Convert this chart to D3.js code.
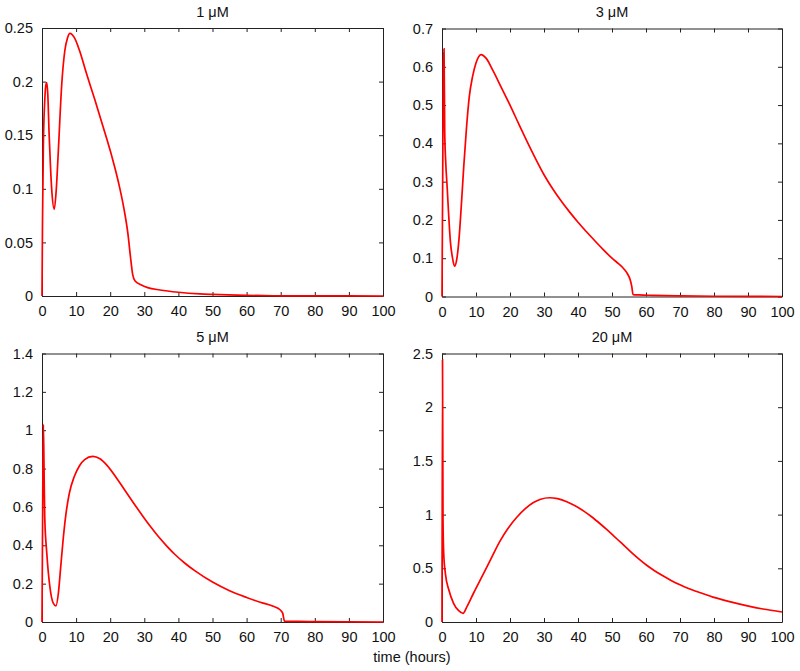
<!DOCTYPE html>
<html lang="en">
<head>
  <meta charset="UTF-8">
  <title>Response over time at four doses</title>
  <script src="https://d3js.org/d3.v7.min.js"></script>
  <style>
    body { margin: 0; background: #fff; }
    svg { display: block; }
    .axis text { font-family: Arial, "Liberation Sans", sans-serif; font-size: 14.5px; fill: #111; }
    .axis path, .axis line { stroke: #222; stroke-width: 1; }
    .title { font-family: Arial, "Liberation Sans", sans-serif; font-size: 14.5px; fill: #111; }
    .curve { fill: none; stroke: #f00; stroke-width: 1.7; }
  </style>
</head>
<body>
<svg id="chart" width="800" height="671"></svg>
<script>
const width = 800;
const height = 671;

// panel titles and tick labels
const titles = ["1 \u03bcM", "3 \u03bcM", "5 \u03bcM", "20 \u03bcM"];
const xTicks = [0, 10, 20, 30, 40, 50, 60, 70, 80, 90, 100];
const yTicks1 = [0, 0.05, 0.1, 0.15, 0.2, 0.25];
const yTicks3 = [0, 0.1, 0.2, 0.3, 0.4, 0.5, 0.6, 0.7];
const yTicks5 = [0, 0.2, 0.4, 0.6, 0.8, 1, 1.2, 1.4];
const yTicks20 = [0, 0.5, 1, 1.5, 2, 2.5];

// 1 uM
const time1 = [0, 0.15, 0.4, 0.8, 1.1, 1.4, 1.7, 2.1, 2.5, 2.9, 3.6, 4.2, 4.8, 5.8, 6.7, 7.5, 8.2, 9.5, 11, 13,
  15.5, 18, 20.5, 22.5, 24, 25.2, 26, 26.6, 27.3, 29, 31, 34.6, 40, 46.3, 50, 60, 70, 80, 100];
const conc1 = [0, 0.07, 0.14, 0.182, 0.196, 0.199, 0.188, 0.15, 0.12, 0.097, 0.081, 0.1, 0.136, 0.198, 0.229, 0.241,
  0.245, 0.241, 0.229, 0.208, 0.183, 0.157, 0.13, 0.105, 0.082, 0.058, 0.035, 0.02, 0.014, 0.0105, 0.0078, 0.0056,
  0.0035, 0.002, 0.0015, 0.0006, 0.0002, 0.0001, 0];

// 3 uM
const time3 = [0, 0.2, 0.4, 0.6, 0.8, 1.1, 1.5, 2.5, 3.1, 3.7, 4.3, 5.0, 5.7, 6.4, 7.2, 8.0, 9.0, 10, 11.5, 13,
  15, 17.5, 20, 22.5, 25, 27.5, 30, 32.5, 35, 37.5, 40, 42.5, 45, 47.5, 50, 52, 53.5, 54.5, 55.3, 55.8, 56.2, 58,
  62, 70, 80, 100];
const conc3 = [0, 0.3, 0.6, 0.647, 0.43, 0.35, 0.288, 0.14, 0.1, 0.079, 0.095, 0.15, 0.24, 0.34, 0.44, 0.52, 0.575,
  0.61, 0.632, 0.622, 0.59, 0.545, 0.5, 0.452, 0.405, 0.36, 0.318, 0.282, 0.25, 0.221, 0.194, 0.169, 0.145, 0.122,
  0.1, 0.085, 0.072, 0.06, 0.045, 0.027, 0.005, 0.004, 0.003, 0.0015, 0.0007, 0];

// 5 uM
const time5 = [0, 0.2, 0.4, 0.6, 0.8, 1.4, 2.3, 3.3, 4.1, 4.8, 5.5, 6.2, 7.0, 8.0, 9.5, 11, 12.5, 14.9, 17, 19,
  21.9, 24, 26.8, 29, 31.7, 34, 36.6, 39, 42, 45, 50, 55, 60, 64, 67.8, 69.8, 70.6, 71.1, 75, 80, 100];
const conc5 = [0, 0.6, 1.03, 0.8, 0.55, 0.36, 0.185, 0.098, 0.084, 0.15, 0.29, 0.43, 0.56, 0.67, 0.76, 0.815, 0.847,
  0.864, 0.851, 0.818, 0.75, 0.695, 0.622, 0.566, 0.5, 0.448, 0.396, 0.352, 0.305, 0.265, 0.208, 0.163, 0.128,
  0.103, 0.082, 0.064, 0.045, 0.005, 0.003, 0.002, 0];

// 20 uM
const time20 = [0, 0.15, 0.3, 0.5, 1.0, 2.0, 3.4, 4.9, 6.2, 7.3, 9.3, 12.2, 14.5, 17.1, 19.5, 22, 24.5, 26.9, 29,
  31.6, 34, 36.7, 39, 41.6, 44, 46.5, 48.5, 50.4, 52.5, 55.3, 57.7, 60.2, 62.5, 65.1, 67.5, 70, 72.5, 74.9, 79.7,
  84.6, 89.5, 94.4, 100];
const conc20 = [0, 2.44, 0.95, 0.64, 0.45, 0.30, 0.174, 0.105, 0.081, 0.14, 0.27, 0.45, 0.595, 0.755, 0.875, 0.975,
  1.055, 1.112, 1.143, 1.157, 1.148, 1.12, 1.085, 1.035, 0.98, 0.915, 0.86, 0.805, 0.743, 0.66, 0.592, 0.528, 0.478,
  0.428, 0.385, 0.346, 0.312, 0.284, 0.232, 0.19, 0.153, 0.121, 0.093];

const panels = [
  { title: titles[0], t: time1, c: conc1, ticks: yTicks1, box: { l: 42, r: 383, t: 28, b: 296 } },
  { title: titles[1], t: time3, c: conc3, ticks: yTicks3, box: { l: 442, r: 782, t: 28.5, b: 296.5 } },
  { title: titles[2], t: time5, c: conc5, ticks: yTicks5, box: { l: 42, r: 383, t: 353.5, b: 622 } },
  { title: titles[3], t: time20, c: conc20, ticks: yTicks20, box: { l: 442, r: 782, t: 353.5, b: 622 } }
];

const svg = d3.select("#chart").attr("viewBox", [0, 0, width, height]);
const fmt = d => String(+d.toFixed(3));

panels.forEach(p => {
  const b = p.box;
  const x = d3.scaleLinear().domain([0, 100]).range([b.l, b.r]);
  const y = d3.scaleLinear().domain([0, d3.max(p.ticks)]).range([b.b, b.t]);
  const g = svg.append("g");

  // frame with inward ticks on all four sides
  g.append("g").attr("class", "axis")
    .attr("transform", `translate(0,${b.b})`)
    .call(d3.axisBottom(x).tickValues(xTicks).tickSizeInner(-4).tickSizeOuter(0).tickPadding(10));
  g.append("g").attr("class", "axis")
    .attr("transform", `translate(0,${b.t})`)
    .call(d3.axisTop(x).tickValues(xTicks).tickSizeInner(-4).tickSizeOuter(0).tickFormat(""));
  g.append("g").attr("class", "axis")
    .attr("transform", `translate(${b.l},0)`)
    .call(d3.axisLeft(y).tickValues(p.ticks).tickSizeInner(-4).tickSizeOuter(0).tickPadding(9).tickFormat(fmt));
  g.append("g").attr("class", "axis")
    .attr("transform", `translate(${b.r},0)`)
    .call(d3.axisRight(y).tickValues(p.ticks).tickSizeInner(-4).tickSizeOuter(0).tickFormat(""));
  g.selectAll(".axis").attr("font-family", null).attr("font-size", null);

  g.append("text")
    .attr("class", "title")
    .attr("x", (b.l + b.r) / 2)
    .attr("y", b.t - 11.5)
    .attr("text-anchor", "middle")
    .text(p.title);

  const line = d3.line()
    .x((d, i) => x(p.t[i]))
    .y(d => y(d))
    .curve(d3.curveMonotoneX);

  g.append("path")
    .attr("class", "curve")
    .attr("d", line(p.c));
});

svg.append("text")
  .attr("class", "title")
  .attr("x", 412)
  .attr("y", 662)
  .attr("text-anchor", "middle")
  .text("time (hours)");
</script>
</body>
</html>
